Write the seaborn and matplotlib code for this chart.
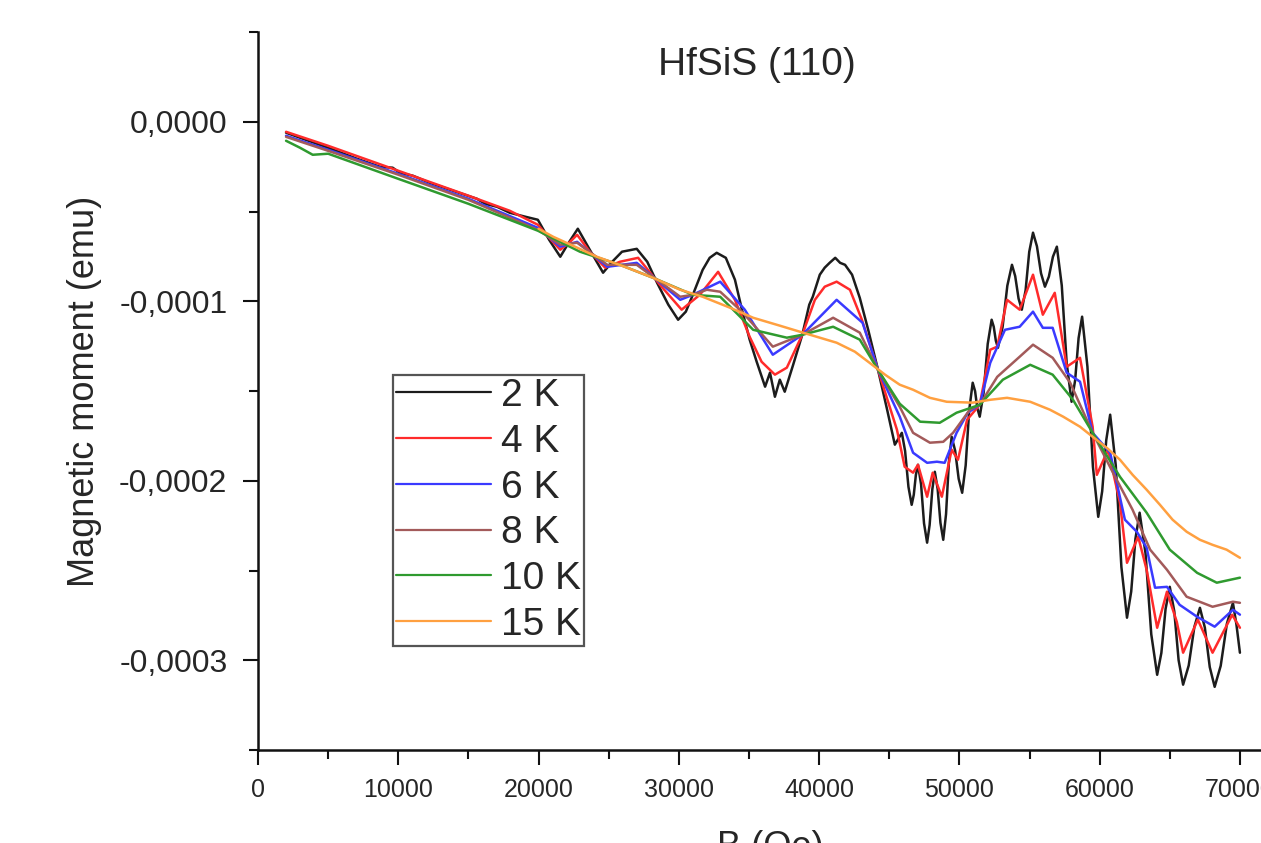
import numpy as np
import pandas as pd
import matplotlib
matplotlib.use("Agg")
import matplotlib.pyplot as plt
import seaborn as sns
from matplotlib.ticker import MultipleLocator, FuncFormatter

# ---------------- data (B in Oe, M in units of 1e-4 emu) ----------------
labels = ["2 K", "4 K", "6 K", "8 K", "10 K", "15 K"]

B_2K = [2000, 3000, 5000, 7050, 8700, 9600, 10100, 11050, 12250, 13700,
        14950, 15600, 16200, 17050, 17950, 19050, 19950, 20750, 21550, 22150,
        22800, 23650, 24600, 25250, 25950, 27000, 27750, 28450, 29250, 29950,
        30500, 31000, 31700, 32200, 32700, 33350, 34000, 34500, 35050, 35550,
        36150, 36500, 36850, 37200, 37550, 38150, 38800, 39300, 39550, 40050,
        40400, 40750, 41150, 41500, 41850, 42350, 42900, 43500, 44200, 44850,
        45400, 45900, 46130, 46370, 46600, 46750, 46900, 47050, 47270, 47480,
        47700, 47880, 48070, 48250, 48450, 48650, 48850, 49050, 49250, 49450,
        49700, 49950, 50200, 50450, 50700, 50950, 51120, 51280, 51450, 51730,
        52020, 52300, 52450, 52600, 52750, 53080, 53420, 53750, 53980, 54220,
        54450, 54720, 54980, 55250, 55530, 55820, 56100, 56380, 56670, 56950,
        57300, 57650, 58000, 58250, 58500, 58750, 59130, 59520, 59900, 60180,
        60470, 60750, 61150, 61550, 61950, 62250, 62550, 62850, 63270, 63680,
        64100, 64400, 64700, 65000, 65320, 65630, 65950, 66350, 66750, 67150,
        67500, 67850, 68200, 68630, 69070, 69500, 69750, 70000]
M_2K = [-0.061, -0.089, -0.145, -0.206, -0.251, -0.256, -0.284, -0.301, -0.340, -0.379,
        -0.412, -0.429, -0.457, -0.474, -0.507, -0.529, -0.546, -0.657, -0.752, -0.674,
        -0.596, -0.713, -0.841, -0.780, -0.724, -0.708, -0.780, -0.897, -1.019, -1.103,
        -1.058, -0.964, -0.825, -0.758, -0.730, -0.758, -0.880, -1.047, -1.214, -1.337,
        -1.476, -1.398, -1.532, -1.437, -1.504, -1.354, -1.187, -1.019, -0.975, -0.852,
        -0.813, -0.786, -0.758, -0.786, -0.797, -0.852, -0.981, -1.159, -1.382, -1.604,
        -1.799, -1.733, -1.834, -2.034, -2.134, -2.078, -1.967, -1.911, -2.020, -2.237,
        -2.345, -2.246, -2.049, -1.950, -2.045, -2.234, -2.329, -2.186, -1.899, -1.755,
        -1.833, -1.989, -2.067, -1.914, -1.607, -1.454, -1.501, -1.596, -1.643, -1.508,
        -1.238, -1.103, -1.142, -1.220, -1.259, -1.144, -0.913, -0.797, -0.860, -0.985,
        -1.047, -0.940, -0.725, -0.618, -0.694, -0.844, -0.919, -0.863, -0.752, -0.696,
        -0.912, -1.344, -1.560, -1.442, -1.205, -1.086, -1.365, -1.922, -2.201, -2.059,
        -1.774, -1.632, -1.915, -2.480, -2.763, -2.617, -2.324, -2.178, -2.404, -2.855,
        -3.081, -2.959, -2.714, -2.591, -2.727, -3.000, -3.136, -3.029, -2.815, -2.708,
        -2.818, -3.038, -3.148, -3.031, -2.797, -2.680, -2.800, -2.958]

B_4K = [2000, 5000, 10000, 15000, 17950, 19950, 20750, 21550, 22250, 22750,
        23650, 24750, 25800, 27100, 28650, 30200, 31500, 32800, 34000, 35050,
        35900, 36850, 37700, 38800, 39700, 40400, 41250, 42200, 43050, 44200,
        45550, 46100, 46700, 47050, 47700, 48100, 48750, 49450, 49900, 50550,
        51450, 52200, 52700, 53400, 54300, 55250, 55950, 56800, 57650, 58600,
        59500, 59800, 60600, 61450, 61950, 62750, 63350, 64100, 64800, 65500,
        65950, 67000, 68050, 69450, 70000]
M_4K = [-0.056, -0.134, -0.273, -0.412, -0.496, -0.574, -0.646, -0.713, -0.669, -0.630,
        -0.724, -0.813, -0.780, -0.758, -0.908, -1.047, -0.964, -0.836, -0.992, -1.198,
        -1.337, -1.409, -1.370, -1.187, -0.992, -0.919, -0.891, -0.936, -1.103, -1.382,
        -1.716, -1.922, -1.955, -1.911, -2.089, -1.955, -2.089, -1.827, -1.883, -1.660,
        -1.577, -1.270, -1.253, -0.992, -1.047, -0.852, -1.075, -0.953, -1.365, -1.315,
        -1.699, -1.967, -1.827, -2.123, -2.457, -2.312, -2.496, -2.819, -2.618, -2.786,
        -2.958, -2.774, -2.958, -2.747, -2.819]

B_6K = [2000, 5000, 10000, 15000, 19950, 21550, 22750, 24900, 27000, 30100,
        31000, 32950, 34700, 36700, 38800, 41250, 43100, 44200, 45750, 46700,
        47700, 48400, 48950, 49800, 50600, 51450, 52200, 53250, 54300, 55250,
        55950, 56650, 57650, 58600, 59500, 60750, 61800, 62650, 63350, 63950,
        64800, 65700, 66950, 68200, 69500, 70000]
M_6K = [-0.078, -0.156, -0.290, -0.429, -0.591, -0.696, -0.669, -0.808, -0.786, -0.992,
        -0.964, -0.891, -1.047, -1.298, -1.187, -0.992, -1.120, -1.382, -1.643, -1.844,
        -1.900, -1.894, -1.900, -1.733, -1.621, -1.577, -1.343, -1.159, -1.142, -1.058,
        -1.148, -1.148, -1.398, -1.448, -1.733, -1.844, -2.217, -2.284, -2.373, -2.596,
        -2.591, -2.691, -2.758, -2.813, -2.719, -2.746]

B_8K = [2000, 5000, 10000, 15000, 19950, 21550, 22750, 24900, 27000, 30100,
        31000, 32000, 32950, 34500, 36700, 38800, 41000, 42900, 44200, 45750,
        46700, 47900, 48850, 49550, 50750, 51450, 52700, 54300, 55250, 56650,
        57900, 59500, 60950, 62350, 63600, 64800, 66200, 68050, 69500, 70000]
M_8K = [-0.084, -0.162, -0.295, -0.435, -0.602, -0.685, -0.674, -0.797, -0.797, -0.975,
        -0.964, -0.936, -0.947, -1.058, -1.253, -1.187, -1.092, -1.175, -1.382, -1.588,
        -1.733, -1.788, -1.783, -1.733, -1.604, -1.577, -1.421, -1.309, -1.242, -1.315,
        -1.454, -1.733, -1.955, -2.162, -2.384, -2.496, -2.646, -2.702, -2.674, -2.680]

B_10K = [2000, 3000, 3900, 5000, 10000, 15000, 19950, 22950, 25800, 28150,
         31000, 32950, 35300, 37700, 38800, 41000, 42900, 44200, 45750, 47200,
         48600, 49800, 51450, 53100, 55050, 56650, 58100, 59500, 61450, 63350,
         65000, 66950, 68350, 70000]
M_10K = [-0.106, -0.145, -0.184, -0.178, -0.318, -0.457, -0.607, -0.724, -0.797, -0.869,
         -0.964, -0.975, -1.159, -1.203, -1.187, -1.142, -1.214, -1.382, -1.571, -1.671,
         -1.677, -1.621, -1.577, -1.437, -1.354, -1.409, -1.549, -1.733, -1.978, -2.178,
         -2.384, -2.513, -2.568, -2.540]

B_15K = [20000, 21050, 22600, 24150, 26150, 28150, 30100, 31700, 33650, 35300,
         37200, 38850, 41250, 42550, 43600, 44700, 45750, 46700, 47900, 49100,
         50950, 52200, 53400, 55050, 56450, 57400, 58600, 59500, 60500, 61450,
         62350, 63350, 64300, 65200, 66200, 67150, 68050, 69050, 70000]
M_15K = [-0.596, -0.641, -0.696, -0.752, -0.808, -0.869, -0.936, -0.975, -1.036, -1.092,
         -1.136, -1.175, -1.231, -1.281, -1.343, -1.409, -1.465, -1.493, -1.538, -1.560,
         -1.565, -1.549, -1.538, -1.560, -1.604, -1.643, -1.699, -1.755, -1.816, -1.883,
         -1.967, -2.050, -2.134, -2.217, -2.284, -2.329, -2.357, -2.384, -2.429]

# ---------------- build table ----------------
series = [B_2K, B_4K, B_6K, B_8K, B_10K, B_15K]
values = [M_2K, M_4K, M_6K, M_8K, M_10K, M_15K]
frames = []
for lab, b, m in zip(labels, series, values):
    frames.append(pd.DataFrame({"B": b, "M": np.asarray(m) * 1e-4, "T": lab}))
df = pd.concat(frames, ignore_index=True)

palette = {"2 K": "#1c1c1c", "4 K": "#ff2b2b", "6 K": "#3a3aff",
           "8 K": "#a35a5a", "10 K": "#2f9a2f", "15 K": "#ffa040"}

sns.set_style("ticks")
plt.rcParams["font.family"] = ["Liberation Sans", "DejaVu Sans"]

fig = plt.figure(figsize=(12.61, 8.43), dpi=100)
ax = fig.add_axes([258 / 1261, 93 / 843, 1024 / 1261, 718 / 843])

sns.lineplot(data=df, x="B", y="M", hue="T", hue_order=labels, palette=palette,
             estimator=None, errorbar=None, sort=False, linewidth=1.8, ax=ax)

ax.set_xlim(0, 73000)
ax.set_ylim(-0.00035, 0.00005)

ax.xaxis.set_major_locator(MultipleLocator(10000))
ax.xaxis.set_minor_locator(MultipleLocator(5000))
ax.yaxis.set_major_locator(MultipleLocator(1e-4))
ax.yaxis.set_minor_locator(MultipleLocator(5e-5))


def yfmt(v, pos):
    s = f"{v:.4f}"
    if s == "-0.0000":
        s = "0.0000"
    return s.replace(".", ",")


ax.yaxis.set_major_formatter(FuncFormatter(yfmt))
ax.xaxis.set_major_formatter(FuncFormatter(lambda v, p: f"{int(round(v))}"))

for side in ["top", "right"]:
    ax.spines[side].set_visible(False)
for side in ["left", "bottom"]:
    ax.spines[side].set_linewidth(1.8)
    ax.spines[side].set_color("#111111")

ax.tick_params(axis="both", which="major", direction="out", length=11, width=1.5,
               color="#111111")
ax.tick_params(axis="both", which="minor", direction="out", length=6.5, width=1.5,
               color="#111111")
ax.tick_params(axis="y", which="major", labelsize=23, pad=11)
ax.tick_params(axis="x", which="major", labelsize=18, pad=9)

ax.set_ylabel("Magnetic moment (emu)", fontsize=26, labelpad=12)
ax.set_xlabel("B (Oe)", fontsize=26, labelpad=20)

ax.text(0.487, 0.954, "HfSiS (110)", transform=ax.transAxes, ha="center",
        va="center", fontsize=28)

handles, labs = ax.get_legend_handles_labels()
leg = ax.legend(handles, labs, loc="upper left", bbox_to_anchor=(0.1318, 0.5223),
                borderaxespad=0, fontsize=28, handlelength=2.45, handletextpad=0.25,
                borderpad=0.08, labelspacing=0.25, fancybox=False, framealpha=1,
                edgecolor="#555555")
leg.get_frame().set_linewidth(1.6)
for h in leg.get_lines():
    h.set_linewidth(1.6)

fig.savefig("out.png", dpi=100)
